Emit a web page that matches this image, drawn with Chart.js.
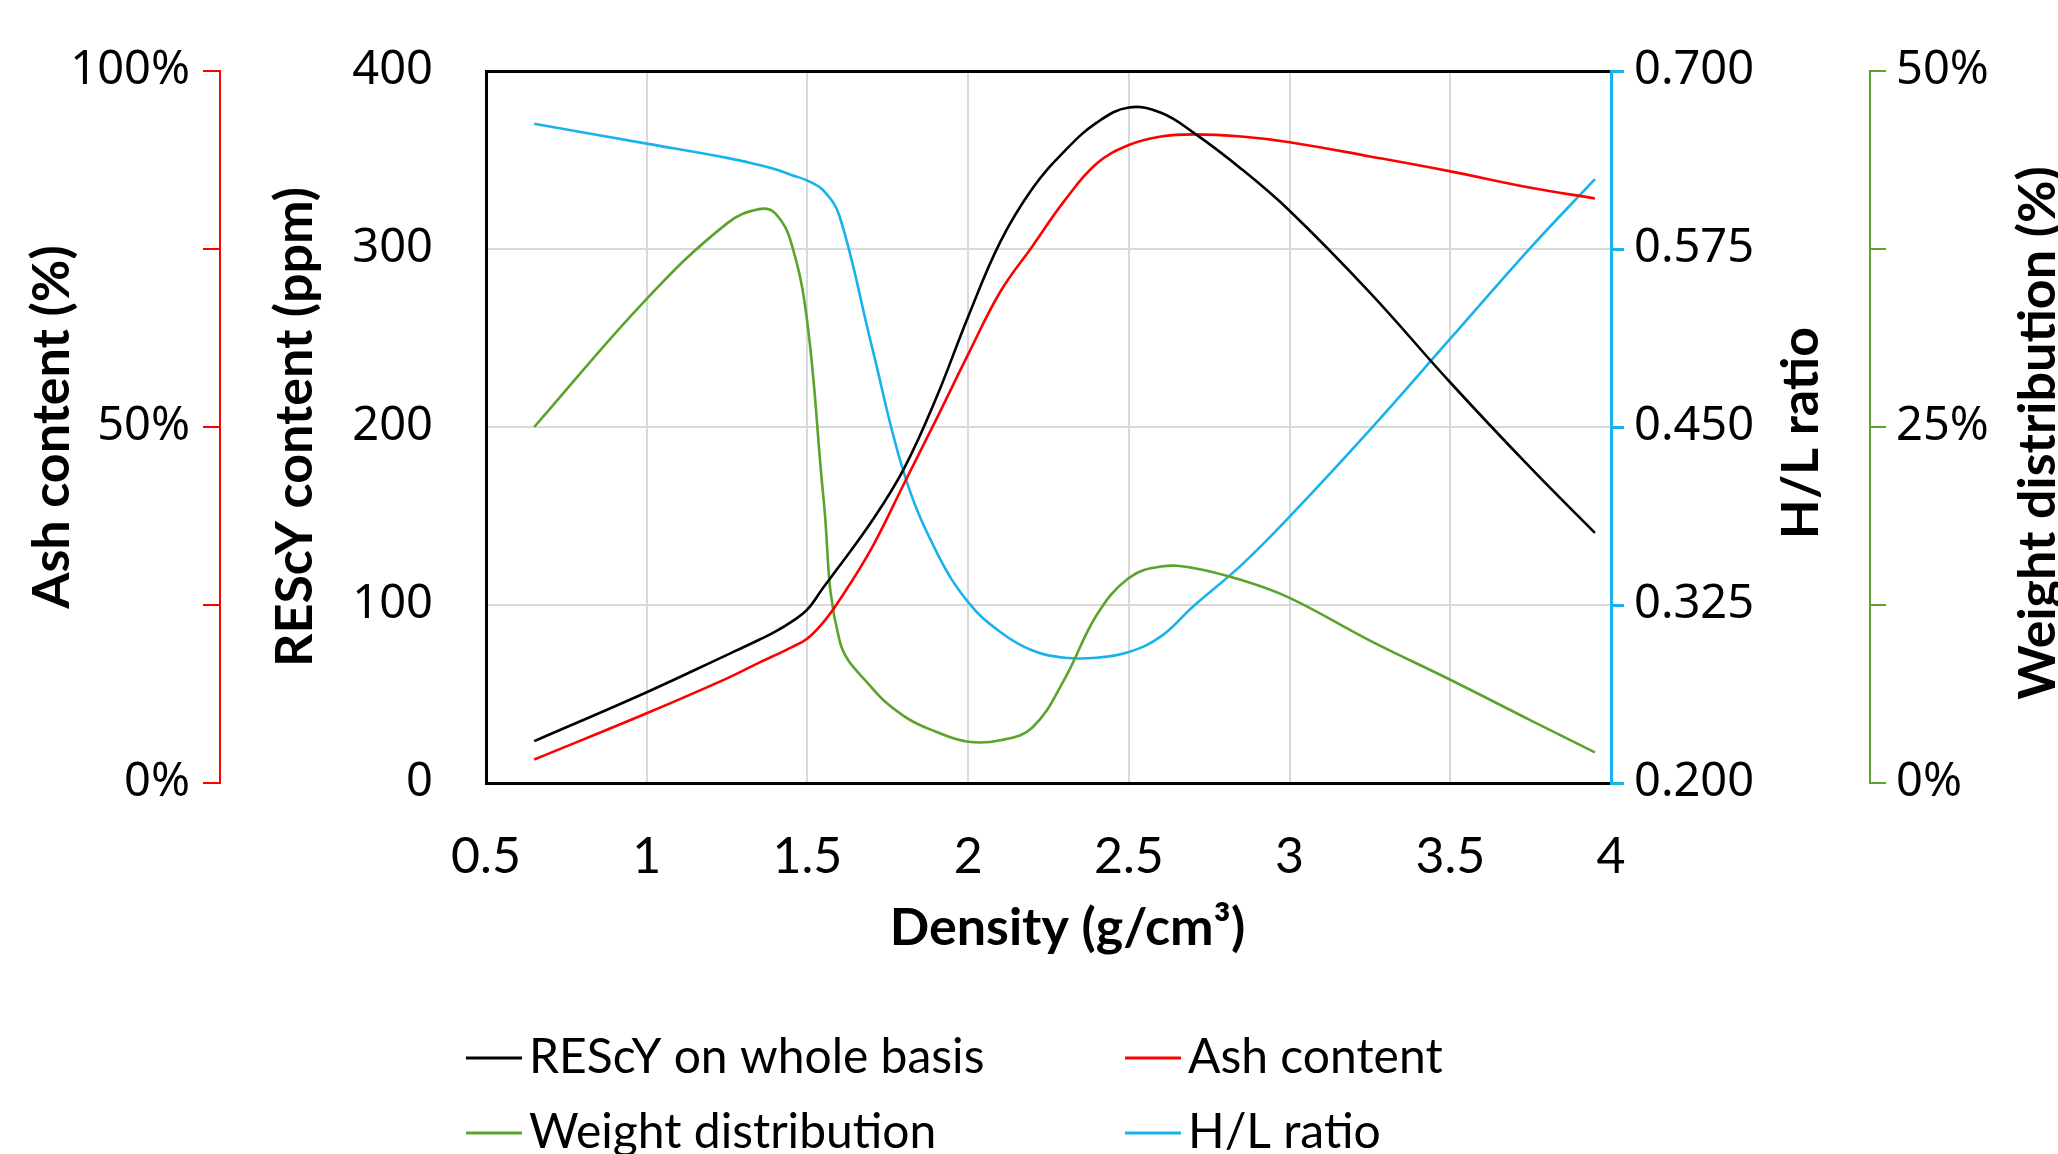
<!DOCTYPE html>
<html>
<head>
<meta charset="utf-8">
<script src="https://cdn.jsdelivr.net/npm/chart.js@4/dist/chart.umd.min.js"></script>
<style>
    html, body { margin: 0; padding: 0; background: #fff; overflow: hidden; }
    #chart { display: block; }
</style>
</head>
<body>
<canvas id="chart" width="2058" height="1154"></canvas>
<script>
// values (density in g/cm3)
const densities = [0.65, 1.0, 1.25, 1.35, 1.4, 1.45, 1.5, 1.55, 1.6, 1.7, 1.8, 1.9, 2.0, 2.1, 2.2, 2.3, 2.4, 2.5, 2.6, 2.7, 2.85, 3.0, 3.25, 3.5, 3.75, 3.95];
const rescyPpm = [23.5, 51, 72, 80.5, 85, 90.5, 97.5, 110, 122, 147, 176.5, 216, 262, 304, 334, 355, 371, 379.5, 376.5, 365.5, 345, 321.5, 275.5, 225, 177, 140.5];
const ashPct = [3.3, 9.8, 14.7, 16.9, 17.95, 19.05, 20.3, 22.6, 25.7, 33.0, 42.0, 51.0, 60.2, 69.0, 75.4, 81.8, 87.0, 89.6, 90.8, 91.1, 90.8, 90.0, 88.0, 85.9, 83.6, 82.1];
const weightPct = [25.0, 34.0, 39.3, 40.3, 40.0, 37.9, 32.3, 20.0, 10.0, 6.7, 4.7, 3.6, 2.9, 3.0, 3.9, 7.3, 11.8, 14.4, 15.2, 15.1, 14.25, 13.0, 10.0, 7.25, 4.4, 2.15];
const hlRatio = [0.663, 0.649, 0.639, 0.634, 0.631, 0.627, 0.623, 0.616, 0.598, 0.507, 0.418, 0.363, 0.327, 0.306, 0.293, 0.288, 0.288, 0.292, 0.303, 0.324, 0.353, 0.387, 0.448, 0.512, 0.576, 0.624];

const seriesNames = ['REScY on whole basis', 'Ash content', 'Weight distribution', 'H/L ratio'];
const seriesColors = ['#000000', '#ff0000', '#5aa42c', '#19b2ec'];

function toPoints(values) {
    return densities.map((d, i) => ({ x: d, y: values[i] }));
}

const TITLE_FONT = { family: 'Lato', size: 52, weight: 'bold', lineHeight: 1.2 };
const YTICK_FONT = { family: 'Noto Sans', size: 47 };

// right-hand axis titles read bottom to top like the original, and the
// x title sits a little right of the plot centre
const extraTitles = {
    id: 'extraTitles',
    afterDraw(chart) {
        const ctx = chart.ctx;
        const area = chart.chartArea;
        const midY = (area.top + area.bottom) / 2 + 6;
        ctx.save();
        ctx.font = 'bold 52px Lato';
        ctx.fillStyle = '#000';
        ctx.textAlign = 'center';
        ctx.textBaseline = 'middle';
        [['yHL', 190], ['yW', 168]].forEach(([id, off]) => {
            const s = chart.scales[id];
            ctx.save();
            ctx.translate(s.left + off, midY);
            ctx.rotate(-Math.PI / 2);
            ctx.fillText(s.options.title.text, 0, 0);
            ctx.restore();
        });
        const xs = chart.scales.x;
        ctx.fillText(xs.options.title.text, (area.left + area.right) / 2 + 19, xs.bottom - 39);
        ctx.restore();
    }
};

// two column legend under the chart
const gridLegend = {
    id: 'gridLegend',
    afterDraw(chart) {
        const ctx = chart.ctx;
        const cols = [466, 1125];
        const rows = [1058, 1133];
        ctx.save();
        ctx.font = '48px Lato';
        ctx.textBaseline = 'middle';
        ctx.textAlign = 'left';
        chart.data.datasets.forEach((ds, i) => {
            const x = cols[i % 2];
            const y = rows[Math.floor(i / 2)];
            ctx.strokeStyle = ds.borderColor;
            ctx.lineWidth = 3;
            ctx.beginPath();
            ctx.moveTo(x, y);
            ctx.lineTo(x + 56, y);
            ctx.stroke();
            ctx.fillStyle = '#000';
            ctx.fillText(ds.label, x + 63, y);
        });
        ctx.restore();
    }
};

const datasets = [rescyPpm, ashPct, weightPct, hlRatio].map((vals, i) => ({
    label: seriesNames[i],
    data: toPoints(vals),
    yAxisID: ['y', 'yAsh', 'yW', 'yHL'][i],
    borderColor: seriesColors[i],
    backgroundColor: seriesColors[i],
    borderWidth: 2.6,
    pointRadius: 0,
    tension: 0.4,
    fill: false
}));

Chart.defaults.font.family = 'Lato';
Chart.defaults.color = '#000';

new Chart(document.getElementById('chart').getContext('2d'), {
    type: 'line',
    data: { datasets: datasets },
    options: {
        responsive: false,
        animation: false,
        devicePixelRatio: 1,
        layout: { padding: { top: 71, right: 0, bottom: 187, left: 0 } },
        plugins: {
            legend: { display: false },
            tooltip: { enabled: false }
        },
        scales: {
            x: {
                type: 'linear',
                min: 0.5,
                max: 4,
                ticks: {
                    stepSize: 0.5,
                    padding: 44,
                    font: { family: 'Lato', size: 50 },
                    callback: v => String(Math.round(v * 10) / 10)
                },
                grid: { color: '#d9d9d9', lineWidth: 2, drawTicks: false },
                border: { color: '#000', width: 3 },
                title: { display: false, text: 'Density (g/cm³)' },
                afterFit: s => { s.height = 184; }
            },
            y: {
                position: 'left',
                weight: 0,
                min: 0,
                max: 400,
                ticks: { stepSize: 100, padding: 10, font: YTICK_FONT },
                grid: {
                    tickLength: 43,
                    tickColor: 'rgba(0,0,0,0)',
                    color: c => c.tick && c.tick.value === 400 ? '#000' : '#d9d9d9',
                    lineWidth: c => c.tick && c.tick.value === 400 ? 3 : 2
                },
                border: { color: '#000', width: 3 },
                title: { display: true, text: 'REScY content (ppm)', font: TITLE_FONT, padding: { top: 44 } },
                afterFit: s => { s.width = 266; }
            },
            yAsh: {
                position: 'left',
                weight: 1,
                min: 0,
                max: 100,
                ticks: {
                    stepSize: 25,
                    padding: 13,
                    font: YTICK_FONT,
                    callback: v => (v % 50 === 0 ? v + '%' : '')
                },
                grid: { drawOnChartArea: false, color: '#ff0000', lineWidth: 2, tickLength: 17 },
                border: { color: '#ff0000', width: 2 },
                title: { display: true, text: 'Ash content (%)', font: TITLE_FONT, padding: { top: 21 } },
                afterFit: s => { s.width = 220; }
            },
            yHL: {
                position: 'right',
                weight: 0,
                min: 0.2,
                max: 0.7,
                ticks: {
                    stepSize: 0.125,
                    padding: 10,
                    font: YTICK_FONT,
                    callback: v => v.toFixed(3)
                },
                grid: { drawOnChartArea: false, color: '#19b2ec', lineWidth: 3, tickLength: 13 },
                border: { color: '#19b2ec', width: 3 },
                title: { display: false, text: 'H/L ratio' },
                afterFit: s => { s.width = 259; }
            },
            yW: {
                position: 'right',
                weight: 1,
                min: 0,
                max: 50,
                ticks: {
                    stepSize: 12.5,
                    padding: 10,
                    font: YTICK_FONT,
                    callback: v => (v % 25 === 0 ? v + '%' : '')
                },
                grid: { drawOnChartArea: false, color: '#5aa42c', lineWidth: 2, tickLength: 16 },
                border: { color: '#5aa42c', width: 2 },
                title: { display: false, text: 'Weight distribution (%)' },
                afterFit: s => { s.width = 188; }
            }
        }
    },
    plugins: [extraTitles, gridLegend]
});
</script>
</body>
</html>
